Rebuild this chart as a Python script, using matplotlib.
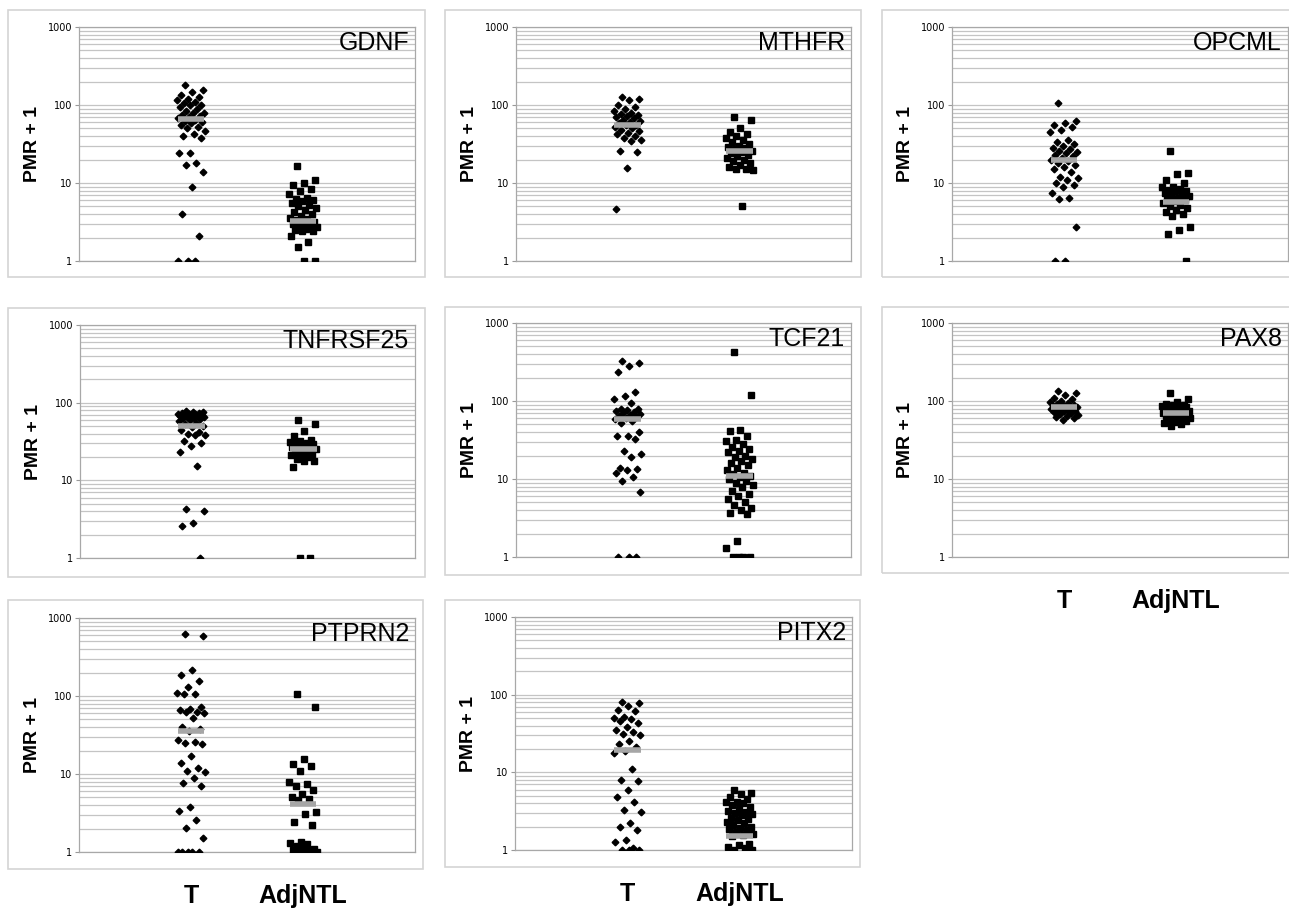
import matplotlib
matplotlib.use("Agg")
import matplotlib.pyplot as plt
from matplotlib.patches import Rectangle
from matplotlib.ticker import LogLocator, NullFormatter, FixedLocator
import numpy as np

# PMR + 1 values, one list per gene and group
genes = ["GDNF", "MTHFR", "OPCML", "TNFRSF25", "TCF21", "PAX8", "PTPRN2", "PITX2"]

gdnf_t = [180, 155, 145, 135, 125, 120, 115, 110, 105, 100, 100, 95, 90, 85, 80, 78, 75, 72,
          70, 68, 65, 62, 60, 58, 55, 52, 50, 47, 43, 40, 38, 24, 24, 18, 17, 14, 9, 4, 2.1, 1, 1, 1]
gdnf_n = [16.5, 11, 10, 9.5, 8.5, 7.8, 7.2, 6.5, 6.2, 6, 5.8, 5.5, 5.2, 5, 4.8, 4.5, 4.2, 4, 3.8,
          3.6, 3.5, 3.4, 3.2, 3.1, 3, 2.9, 2.8, 2.7, 2.6, 2.5, 2.4, 2.4, 2.1, 1.75, 1.5, 1, 1]
mthfr_t = [125, 120, 115, 100, 95, 90, 85, 80, 77, 75, 72, 70, 68, 65, 62, 60, 58, 56, 55, 52, 50,
           48, 46, 44, 42, 40, 38, 36, 35, 26, 25, 15.5, 4.6]
mthfr_n = [70, 65, 50, 45, 42, 40, 38, 36, 34, 32, 30, 29, 28, 27, 26, 25, 24, 23, 22, 21, 20, 19,
           18, 17, 16, 15, 15, 14.5, 5]
opcml_t = [106, 63, 58, 55, 52, 48, 45, 36, 34, 32, 30, 28, 27, 26, 25, 24, 23, 22, 21, 20, 19, 18,
           17, 16, 15, 14, 12, 11.5, 11, 10, 9.5, 9, 7.5, 6.5, 6.2, 2.7, 1, 1]
opcml_n = [26, 13.5, 13, 11, 10, 9, 8.8, 8.5, 8.2, 8, 7.8, 7.5, 7.2, 7, 6.8, 6.5, 6.2, 6, 5.8, 5.5,
           5.2, 5, 4.8, 4.5, 4.2, 4, 3.8, 2.7, 2.5, 2.2, 1]
tnf_t = [78, 76, 75, 74, 73, 72, 72, 71, 70, 70, 69, 68, 67, 66, 65, 64, 63, 62, 60, 58, 55, 53, 50,
         48, 45, 42, 40, 38, 38, 32, 30, 28, 23, 15.5, 4.3, 4.0, 2.8, 2.6, 1]
tnf_n = [60, 53, 43, 37, 33, 32, 31, 30, 30, 29, 28, 27, 26, 25, 25, 24, 23, 22, 21, 21, 20, 19, 18,
         17.5, 15, 1, 1]
tcf_t = [330, 305, 280, 235, 130, 115, 105, 95, 80, 78, 76, 75, 73, 70, 68, 66, 64, 62, 60, 58, 55,
         53, 40, 36, 36, 33, 23, 21, 19, 14, 13.5, 13, 12, 10.5, 9.5, 6.8, 1, 1, 1]
tcf_n = [420, 120, 42, 41, 36, 32, 31, 28, 26, 24, 23, 22, 20, 19, 18, 17, 16, 15, 14, 13, 12, 11.5,
         11, 10.5, 10, 9.5, 9, 8.5, 7.8, 7, 6.5, 6, 5.5, 5, 4.6, 4.3, 4, 3.7, 3.6, 1.6, 1.3, 1, 1, 1, 1]
pax8_t = [135, 125, 118, 110, 105, 100, 98, 95, 92, 90, 88, 86, 85, 84, 83, 82, 81, 80, 79, 78, 77,
          76, 75, 74, 72, 70, 68, 66, 64, 62, 60, 57]
pax8_n = [125, 105, 96, 92, 90, 88, 86, 85, 84, 83, 82, 80, 78, 76, 75, 74, 73, 72, 71, 70, 69, 68,
          67, 66, 65, 64, 62, 60, 58, 56, 55, 54, 52, 50, 48]
ptp_t = [630, 590, 215, 185, 157, 132, 108, 106, 105, 72, 68, 66, 63, 62, 60, 52, 40, 38, 36, 27, 26,
         25, 24, 17, 14, 12, 11, 10.5, 9, 7.6, 7.1, 3.8, 3.4, 2.6, 2.05, 1.5, 1, 1, 1, 1, 1]
ptp_n = [107, 73, 15.5, 13.5, 12.5, 11, 8, 7.5, 7, 6.2, 5.5, 5, 4.8, 4.6, 3.3, 3.1, 2.4, 2.2, 1.35,
         1.3, 1.25, 1.2, 1.1, 1.1, 1.05, 1.05, 1, 1, 1, 1, 1, 1]
pitx_t = [80, 77, 72, 64, 62, 52, 50, 48, 46, 43, 38, 35, 33, 31, 30, 25, 23.5, 21, 19, 18, 11, 8,
          7.8, 5.9, 4.8, 4.1, 3.3, 3.1, 2.2, 2.0, 1.8, 1.35, 1.25, 1.05, 1, 1, 1]
pitx_n = [5.9, 5.4, 5.2, 4.8, 4.5, 4.2, 4.1, 4, 3.8, 3.6, 3.4, 3.2, 3.1, 3, 2.9, 2.8, 2.6, 2.5, 2.4,
          2.3, 2.2, 2.1, 2, 1.9, 1.85, 1.8, 1.7, 1.6, 1.55, 1.5, 1.2, 1.15, 1.1, 1.05, 1, 1]

tumour = [gdnf_t, mthfr_t, opcml_t, tnf_t, tcf_t, pax8_t, ptp_t, pitx_t]
normal = [gdnf_n, mthfr_n, opcml_n, tnf_n, tcf_n, pax8_n, ptp_n, pitx_n]
# gray median bars as drawn
med_t = [67, 55, 19.5, 50, 59, 83, 36, 19.2]
med_n = [3.3, 25.7, 5.7, 25.5, 11, 71, 4.1, 1.53]

groups = ["T", "AdjNTL"]

W, H = 1289, 909
fig = plt.figure(figsize=(W / 100, H / 100), dpi=100)

# plot areas (pixels: left, right, top, bottom) and outer frames
areas = [(79, 415, 27, 261), (516, 851, 27, 261), (952, 1288, 27, 261),
         (80, 415, 325, 558), (516, 851, 323, 557), (952, 1288, 323, 557),
         (79, 415, 618, 852), (515, 852, 617, 850)]
frames = [(8, 425, 10, 277), (445, 861, 10, 277), (882, 1300, 10, 277),
          (8, 425, 308, 577), (445, 861, 307, 575), (882, 1300, 307, 573),
          (8, 423, 600, 869), (445, 860, 600, 867)]


def jitter(n, width=0.25):
    k = np.arange(n)
    return ((k * 0.618034 + 0.3) % 1 - 0.5) * width


for i, gene in enumerate(genes):
    fl, fr, ft, fb = frames[i]
    fig.add_artist(Rectangle((fl / W, 1 - fb / H), (fr - fl) / W, (fb - ft) / H,
                             transform=fig.transFigure, fill=False, ec="#d4d4d4", lw=1.2))
    l, r, t, b = areas[i]
    ax = fig.add_axes([l / W, 1 - b / H, (r - l) / W, (b - t) / H])
    ax.set_yscale("log")
    ax.set_ylim(1, 1000)
    ax.set_xlim(0, 3)
    ax.yaxis.set_major_locator(FixedLocator([1, 10, 100, 1000]))
    ax.set_yticklabels(["1", "10", "100", "1000"])
    ax.yaxis.set_minor_locator(LogLocator(base=10, subs=np.arange(2, 10)))
    ax.yaxis.set_minor_formatter(NullFormatter())
    ax.grid(True, which="both", axis="y", color="#c4c4c4", lw=0.9)
    ax.set_axisbelow(True)
    ax.set_xticks([])
    ax.tick_params(axis="y", which="major", length=3, color="#999999", labelsize=7, pad=2)
    ax.tick_params(axis="y", which="minor", length=0)
    for s in ax.spines.values():
        s.set_color("#a8a8a8")
        s.set_linewidth(0.9)

    vt = np.array(tumour[i], dtype=float)
    vn = np.array(normal[i], dtype=float)
    ax.plot(1 + jitter(len(vt)), vt, "D", color="black", ms=3.4, ls="none", zorder=3)
    ax.plot(2 + jitter(len(vn)), vn, "s", color="black", ms=4.6, ls="none", zorder=3)
    ax.hlines([med_t[i], med_n[i]], [0.88, 1.88], [1.12, 2.12], color="#a6a6a6", lw=4, zorder=4)

    ax.text(0.982, 0.93, gene, transform=ax.transAxes, ha="right", va="center",
            fontsize=18, family="Liberation Sans")
    ax.set_ylabel("PMR + 1", fontsize=14, fontweight="bold", family="Liberation Sans", labelpad=5)

    if i in (5, 6, 7):
        for k, g in enumerate(groups):
            ax.text((k + 1) / 3, -0.19, g, transform=ax.transAxes, ha="center", va="center",
                    fontsize=18, fontweight="bold", family="Liberation Sans")

fig.savefig("out.png", dpi=100, facecolor="white")
